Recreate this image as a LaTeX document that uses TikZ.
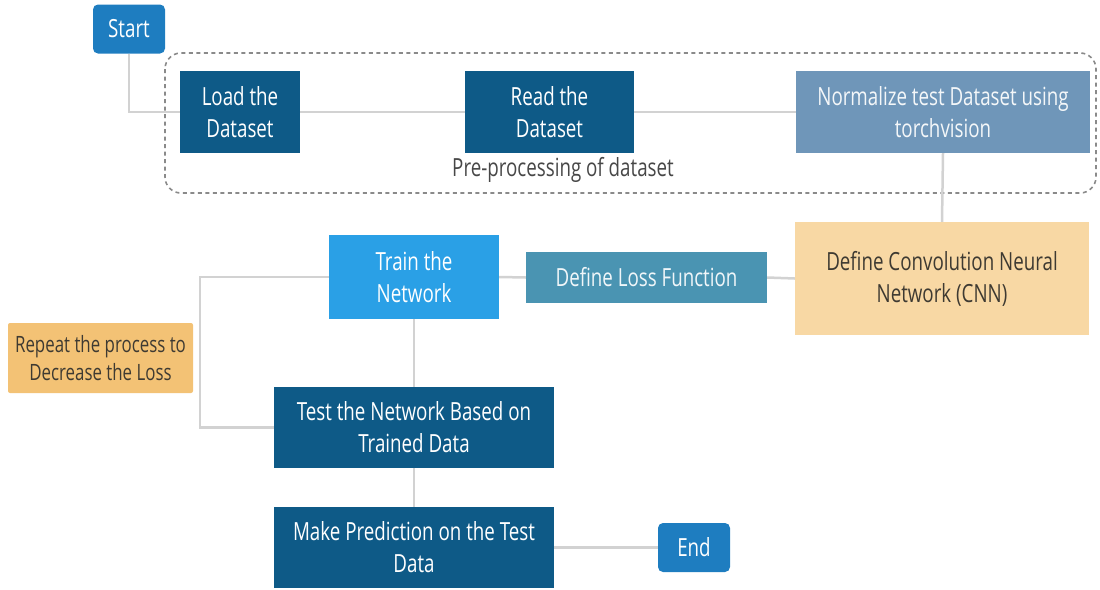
\documentclass[tikz,border=0pt]{standalone}
\usepackage{fontspec}
\setmainfont[FakeStretch=0.75]{Open Sans}
\usetikzlibrary{positioning}
\definecolor{cStart}{HTML}{1E7DC0}
\definecolor{cDark}{HTML}{0E5A87}
\definecolor{cNorm}{HTML}{6F96B9}
\definecolor{cTrain}{HTML}{2AA0E6}
\definecolor{cLoss}{HTML}{4A94B2}
\definecolor{cCnn}{HTML}{F8D8A4}
\definecolor{cRep}{HTML}{F3C275}
\definecolor{cLine}{HTML}{D2D2D2}
\definecolor{cDash}{HTML}{8A8A8A}
\definecolor{cTxt}{HTML}{3E3A32}
\begin{document}
\begin{tikzpicture}[x=1pt,y=-1pt,
  box/.style={draw=none,rectangle,align=center,text=white,inner sep=0pt,
    font=\fontsize{25}{32}\selectfont},
  link/.style={draw=cLine,line width=2.5pt}]
\useasboundingbox (0,0) rectangle (1100,589);
% dashed group
\draw[cDash,line width=1.6pt,dash pattern=on 4pt off 3.5pt,rounded corners=16pt] (165,53) rectangle (1096,193);
% nodes
\node[box,fill=cStart,rounded corners=5pt,minimum width=72pt,minimum height=49pt] (start) at (129,29) {Start};
\node[box,fill=cDark,minimum width=120pt,minimum height=82pt] (load) at (240,112) {Load the\\Dataset};
\node[box,fill=cDark,minimum width=169pt,minimum height=82pt] (read) at (549.5,112) {Read the\\Dataset};
\node[box,fill=cNorm,text=white!92!cNorm,minimum width=294pt,minimum height=82pt] (norm) at (943,112) {Normalize test Dataset using\\torchvision};
\node[font=\fontsize{25}{32}\selectfont,text=black!72] (pre) at (563,170) {Pre-processing of dataset};
\node[box,fill=cCnn,text=cTxt,minimum width=294pt,minimum height=113pt] (cnn) at (942,278.5) {Define Convolution Neural\\Network (CNN)};
\node[box,fill=cLoss,text=white!92!cLoss,minimum width=241pt,minimum height=51pt] (loss) at (646.5,277.5) {Define Loss Function};
\node[box,fill=cTrain,minimum width=170pt,minimum height=84pt] (train) at (414,277) {Train the\\Network};
\node[box,fill=cRep,text=cTxt,rounded corners=2pt,minimum width=185pt,minimum height=70pt,font=\fontsize{22.5}{28}\selectfont] (rep) at (100.5,358) {Repeat the process to\\Decrease the Loss};
\node[box,fill=cDark,minimum width=280pt,minimum height=81pt] (test) at (414,427.5) {Test the Network Based on\\Trained Data};
\node[box,fill=cDark,minimum width=280pt,minimum height=81pt] (make) at (414,547.5) {Make Prediction on the Test\\Data};
\node[box,fill=cStart,rounded corners=5pt,minimum width=72pt,minimum height=49pt] (end) at (694,547.5) {End};
\coordinate (loopx) at (200,0);
% connectors
\draw[link] (start.south) |- (load.west);
\draw[link] (load.east) -- (read.west);
\draw[link] (read.east) -- (norm.west);
\draw[link] (norm.south) -- (cnn.north);
\draw[link] (cnn.west) -- (loss.east);
\draw[link] (loss.west) -- (train.east);
\draw[link] (train.south) -- (test.north);
\draw[link] (train.west) -- (train.west -| loopx) -- (test.west -| loopx) -- (test.west);
\draw[link] (test.south) -- (make.north);
\draw[link] (make.east) -- (end.west);
\end{tikzpicture}
\end{document}
